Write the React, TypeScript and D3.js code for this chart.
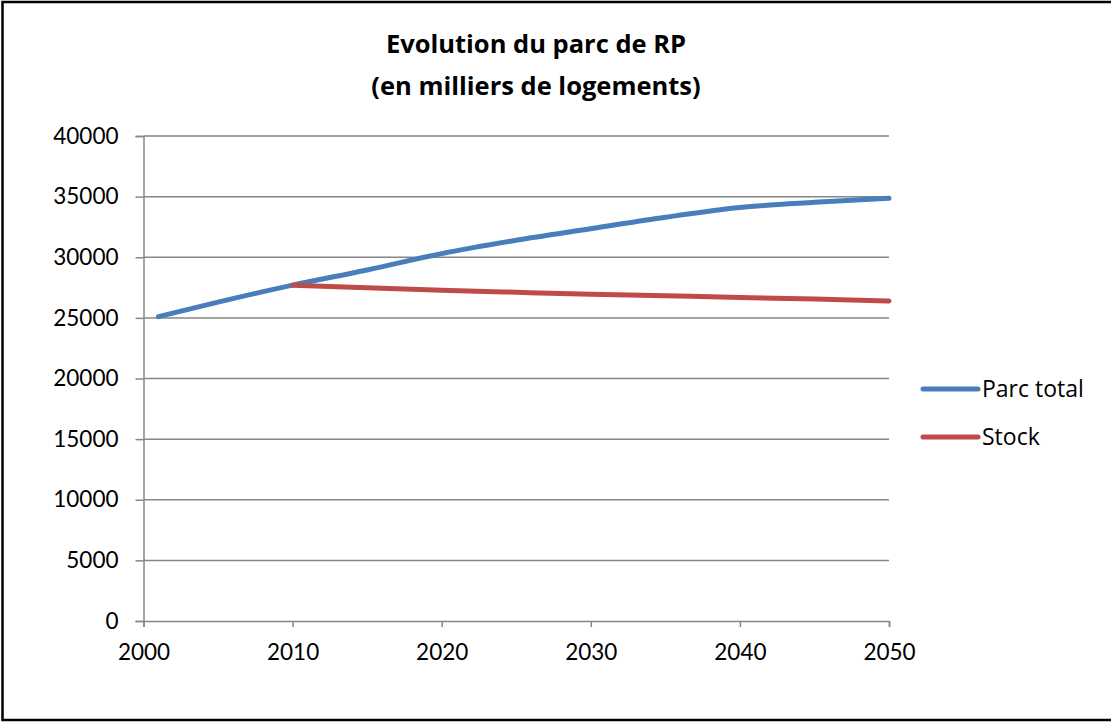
import React, { useEffect, useRef } from 'react';
import * as d3 from 'd3';

const years = [2001, 2005, 2010, 2015, 2020, 2025, 2030, 2035, 2040, 2045, 2050];
const parcTotal = [25100, 26300, 27700, 28950, 30300, 31400, 32350, 33300, 34100, 34530, 34860];
const stockYears = [2010, 2015, 2020, 2025, 2030, 2035, 2040, 2045, 2050];
const stock = [27700, 27480, 27280, 27110, 26950, 26820, 26690, 26550, 26390];
const xTicks = [2000, 2010, 2020, 2030, 2040, 2050];
const yTicks = [0, 5000, 10000, 15000, 20000, 25000, 30000, 35000, 40000];
const seriesNames = ['Parc total', 'Stock'];
const seriesColors = ['#4A7EBB', '#BE4B48'];

const App = () => {
  const ref = useRef<SVGSVGElement>(null);

  useEffect(() => {
    const svg = d3.select(ref.current);
    svg.selectAll('*').remove();
    const font = 'Lato, sans-serif';
    const textFont = '"Open Sans", sans-serif';

    // outer frame like the Excel chart area
    svg
      .append('rect')
      .attr('x', 2.5)
      .attr('y', 2)
      .attr('width', 1120)
      .attr('height', 718)
      .attr('fill', 'white')
      .attr('stroke', 'black')
      .attr('stroke-width', 2.5);

    const x = d3.scaleLinear().domain([2000, 2050]).range([143.5, 889]);
    const y = d3.scaleLinear().domain([0, 40000]).range([621, 136]);

    const g = svg.append('g');

    // gridlines
    g.selectAll('line.grid')
      .data(yTicks.slice(1))
      .enter()
      .append('line')
      .attr('x1', x(2000))
      .attr('x2', x(2050))
      .attr('y1', (d) => y(d))
      .attr('y2', (d) => y(d))
      .attr('stroke', '#868686')
      .attr('stroke-width', 1.5);

    // y axis
    const yAxis = g
      .append('g')
      .attr('transform', `translate(${x(2000)},0)`)
      .call(d3.axisLeft(y).tickValues(yTicks).tickSize(8).tickPadding(17).tickFormat((d) => String(d)));
    // x axis
    const xAxis = g
      .append('g')
      .attr('transform', `translate(0,${y(0)})`)
      .call(d3.axisBottom(x).tickValues(xTicks).tickSize(6).tickPadding(12).tickFormat((d) => String(d)));

    [yAxis, xAxis].forEach((a) => {
      a.select('.domain').attr('stroke', '#868686').attr('stroke-width', 1.5);
      a.selectAll('.tick line').attr('stroke', '#868686').attr('stroke-width', 1.5);
      a.selectAll('text')
        .attr('fill', 'black')
        .attr('font-family', font)
        .attr('font-size', 22.5);
    });
    xAxis.selectAll('text').attr('dy', '0.95em');

    const line = d3
      .line<[number, number]>()
      .x((d) => x(d[0]))
      .y((d) => y(d[1]))
      .curve(d3.curveMonotoneX);

    const series: [number, number][][] = [
      years.map((yr, i) => [yr, parcTotal[i]]),
      stockYears.map((yr, i) => [yr, stock[i]]),
    ];

    g.selectAll('path.series')
      .data(series)
      .enter()
      .append('path')
      .attr('d', (d) => line(d))
      .attr('fill', 'none')
      .attr('stroke', (_, i) => seriesColors[i])
      .attr('stroke-width', 5)
      .attr('stroke-linecap', 'round')
      .attr('stroke-linejoin', 'round');

    // legend
    const legend = svg
      .append('g')
      .selectAll('g')
      .data(seriesNames)
      .enter()
      .append('g')
      .attr('transform', (_, i) => `translate(923,${389 + i * 48})`);
    legend
      .append('line')
      .attr('x1', 0)
      .attr('x2', 55)
      .attr('stroke', (_, i) => seriesColors[i])
      .attr('stroke-width', 5)
      .attr('stroke-linecap', 'round');
    legend
      .append('text')
      .attr('x', 59)
      .attr('dy', '0.36em')
      .attr('font-family', textFont)
      .attr('font-size', 23)
      .text((d) => d);

    // title
    svg
      .append('text')
      .attr('x', 536)
      .attr('text-anchor', 'middle')
      .attr('font-family', textFont)
      .attr('font-weight', 'bold')
      .attr('font-size', 25.5)
      .call((t) => {
        t.append('tspan').attr('x', 536).attr('y', 53).text('Evolution du parc de RP');
        t.append('tspan').attr('x', 536).attr('y', 95).text('(en milliers de logements)');
      });
  }, []);

  return (
    <svg
      ref={ref}
      width={1111}
      height={723}
      style={{ position: 'absolute', left: 0, top: 0, background: 'white' }}
    />
  );
};

export default App;
